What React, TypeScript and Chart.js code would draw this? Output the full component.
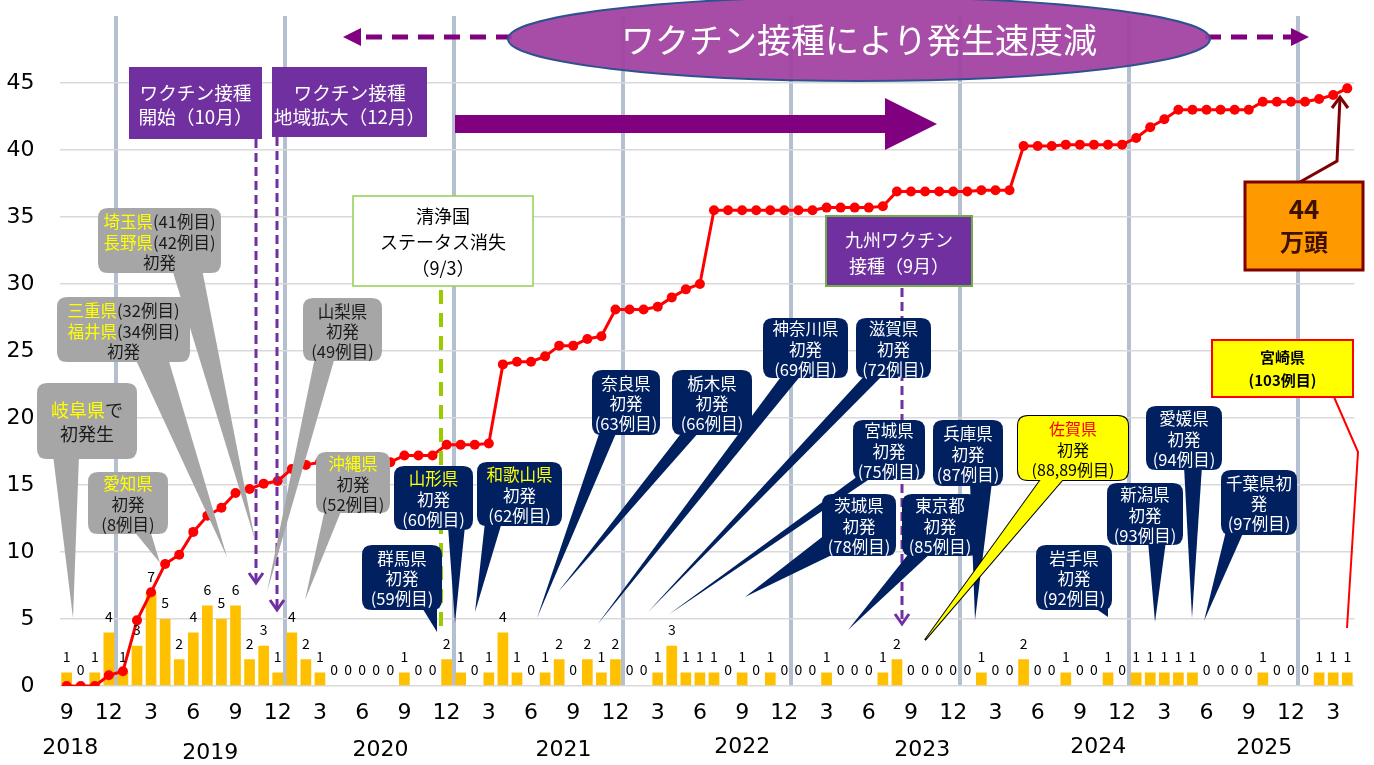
import React, { useEffect, useRef } from 'react';
import { Chart, registerables } from 'chart.js';
Chart.register(...registerables);

const months: string[] = [
  '2018-09','2018-10','2018-11','2018-12',
  '2019-01','2019-02','2019-03','2019-04','2019-05','2019-06','2019-07','2019-08','2019-09','2019-10','2019-11','2019-12',
  '2020-01','2020-02','2020-03','2020-04','2020-05','2020-06','2020-07','2020-08','2020-09','2020-10','2020-11','2020-12',
  '2021-01','2021-02','2021-03','2021-04','2021-05','2021-06','2021-07','2021-08','2021-09','2021-10','2021-11','2021-12',
  '2022-01','2022-02','2022-03','2022-04','2022-05','2022-06','2022-07','2022-08','2022-09','2022-10','2022-11','2022-12',
  '2023-01','2023-02','2023-03','2023-04','2023-05','2023-06','2023-07','2023-08','2023-09','2023-10','2023-11','2023-12',
  '2024-01','2024-02','2024-03','2024-04','2024-05','2024-06','2024-07','2024-08','2024-09','2024-10','2024-11','2024-12',
  '2025-01','2025-02','2025-03','2025-04','2025-05','2025-06','2025-07','2025-08','2025-09','2025-10','2025-11','2025-12',
  '2026-01','2026-02','2026-03','2026-04',
];

// monthly outbreak cases (bars)
const cases: number[] = [
  1,0,1,4,
  1,3,7,5,2,4,6,5,6,2,3,1,
  4,2,1,0,0,0,0,0,1,0,0,2,
  1,0,1,4,1,0,1,2,0,2,1,2,
  0,0,1,3,1,1,1,0,1,0,1,0,
  0,0,1,0,0,0,1,2,0,0,0,0,
  0,1,0,0,2,0,0,1,0,0,1,0,
  1,1,1,1,1,0,0,0,0,1,0,0,
  0,1,1,1,
];

// cumulative culled pigs (万頭, line)
const culled: number[] = [
  0,0,0,0.8,
  1.1,4.9,7.0,9.1,9.8,11.5,12.7,13.3,14.4,14.7,15.1,15.3,
  16.2,16.5,16.7,16.7,16.7,16.7,16.7,16.7,17.2,17.2,17.2,18.0,
  18.0,18.0,18.1,24.0,24.2,24.2,24.6,25.4,25.4,25.9,26.1,28.1,
  28.1,28.1,28.3,29.0,29.6,30.0,35.5,35.5,35.5,35.5,35.5,35.5,
  35.5,35.5,35.7,35.7,35.7,35.7,35.8,36.9,36.9,36.9,36.9,36.9,
  36.9,37.0,37.0,37.0,40.3,40.3,40.3,40.4,40.4,40.4,40.4,40.4,
  40.9,41.7,42.3,43.0,43.0,43.0,43.0,43.0,43.0,43.6,43.6,43.6,
  43.6,43.8,44.1,44.6,
];

const yTicks: number[] = [0, 5, 10, 15, 20, 25, 30, 35, 40, 45];
const yearLabels: string[] = ['2018', '2019', '2020', '2021', '2022', '2023', '2024', '2025'];
// where each year label sits, in category-index units, and its vertical offset below the axis
const yearAt: number[] = [0.25, 10.2, 22.3, 35.3, 48.0, 60.8, 73.3, 85.1];
const yearDy: number[] = [62, 67, 64, 64, 61, 64, 61, 62];

const F = '"Noto Sans CJK JP", "Noto Sans", sans-serif';
const NUM = '"DejaVu Sans", sans-serif';
const Y = '#FFFF00';
const W = '#FFFFFF';
const D = '#1A1A1A';
const GREY = '#A6A6A6';
const NAVY = '#002060';
const PURPLE = '#7030A0';
const MAG = '#800080';

type Seg = [string, string];

function rr(ctx: CanvasRenderingContext2D, x: number, y: number, w: number, h: number, r: number) {
  ctx.beginPath();
  ctx.moveTo(x + r, y);
  ctx.lineTo(x + w - r, y);
  ctx.quadraticCurveTo(x + w, y, x + w, y + r);
  ctx.lineTo(x + w, y + h - r);
  ctx.quadraticCurveTo(x + w, y + h, x + w - r, y + h);
  ctx.lineTo(x + r, y + h);
  ctx.quadraticCurveTo(x, y + h, x, y + h - r);
  ctx.lineTo(x, y + r);
  ctx.quadraticCurveTo(x, y, x + r, y);
  ctx.closePath();
}

function lines(ctx: CanvasRenderingContext2D, cx: number, ys: number[], ls: Seg[][], font: string) {
  ctx.font = font;
  ctx.textBaseline = 'middle';
  ctx.textAlign = 'left';
  ls.forEach((segs, i) => {
    let total = 0;
    segs.forEach(([t]) => (total += ctx.measureText(t).width));
    let x = cx - total / 2;
    segs.forEach(([t, c]) => {
      ctx.fillStyle = c;
      ctx.fillText(t, x, ys[i]);
      x += ctx.measureText(t).width;
    });
  });
}

interface CO {
  x: number; y: number; w: number; h: number; r?: number;
  fill: string; stroke?: string;
  wedge?: number[]; // bx1,by1,bx2,by2,tx,ty
  ls: Seg[][]; ys: number[]; font?: string;
}

function callout(ctx: CanvasRenderingContext2D, o: CO) {
  const r = o.r ?? 10;
  const wedgePath = () => {
    if (!o.wedge) return;
    const [a, b, c, d, e, f] = o.wedge;
    ctx.beginPath();
    ctx.moveTo(a, b);
    ctx.lineTo(e, f);
    ctx.lineTo(c, d);
    ctx.closePath();
  };
  if (o.stroke) {
    ctx.strokeStyle = o.stroke;
    ctx.lineWidth = 2;
    ctx.lineJoin = 'miter';
    if (o.wedge) { wedgePath(); ctx.stroke(); }
    rr(ctx, o.x, o.y, o.w, o.h, r); ctx.stroke();
  }
  ctx.fillStyle = o.fill;
  if (o.wedge) { wedgePath(); ctx.fill(); }
  ctx.fillStyle = o.fill;
  rr(ctx, o.x, o.y, o.w, o.h, r); ctx.fill();
  lines(ctx, o.x + o.w / 2, o.ys, o.ls, o.font ?? `16px ${F}`);
}

function rectBox(ctx: CanvasRenderingContext2D, x: number, y: number, w: number, h: number, fill: string, stroke?: string, lw = 2) {
  ctx.fillStyle = fill;
  ctx.fillRect(x, y, w, h);
  if (stroke) {
    ctx.strokeStyle = stroke;
    ctx.lineWidth = lw;
    ctx.strokeRect(x, y, w, h);
  }
}

function vArrowDashed(ctx: CanvasRenderingContext2D, x: number, y1: number, y2: number, color: string, dash: number[], lw: number) {
  ctx.save();
  ctx.strokeStyle = color;
  ctx.lineWidth = lw;
  ctx.setLineDash(dash);
  ctx.beginPath();
  ctx.moveTo(x, y1);
  ctx.lineTo(x, y2);
  ctx.stroke();
  ctx.setLineDash([]);
  ctx.beginPath();
  ctx.moveTo(x - 7, y2 - 10);
  ctx.lineTo(x, y2);
  ctx.lineTo(x + 7, y2 - 10);
  ctx.stroke();
  ctx.restore();
}

const annotations = {
  id: 'annotations',
  afterDatasetsDraw(chart: any) {
    const ctx: CanvasRenderingContext2D = chart.ctx;
    const xs = chart.scales.x;
    const ys = chart.scales.y;
    ctx.save();
    // value labels above bars
    const meta = chart.getDatasetMeta(1);
    ctx.font = `14px ${F}`;
    ctx.fillStyle = '#000';
    ctx.textAlign = 'center';
    ctx.textBaseline = 'middle';
    meta.data.forEach((bar: any, i: number) => {
      ctx.fillText(String(cases[i]), bar.x, bar.y - 16);
    });
    // year labels
    ctx.font = `22px ${NUM}`;
    yearLabels.forEach((t, i) => {
      ctx.fillText(t, xs.getPixelForValue(yearAt[i]), ys.bottom + yearDy[i]);
    });
    ctx.restore();
  },
  afterDraw(chart: any) {
    const ctx: CanvasRenderingContext2D = chart.ctx;
    ctx.save();

    // top ellipse + dashed arrows
    ctx.strokeStyle = MAG;
    ctx.lineWidth = 5;
    ctx.setLineDash([16, 10]);
    ctx.beginPath(); ctx.moveTo(512, 37); ctx.lineTo(358, 37); ctx.stroke();
    ctx.beginPath(); ctx.moveTo(1205, 37); ctx.lineTo(1294, 37); ctx.stroke();
    ctx.setLineDash([]);
    ctx.fillStyle = MAG;
    ctx.beginPath(); ctx.moveTo(343, 37); ctx.lineTo(361, 28); ctx.lineTo(361, 46); ctx.closePath(); ctx.fill();
    ctx.beginPath(); ctx.moveTo(1309, 37); ctx.lineTo(1291, 28); ctx.lineTo(1291, 46); ctx.closePath(); ctx.fill();

    ctx.globalAlpha = 0.93;
    ctx.fillStyle = '#A040A0';
    ctx.beginPath(); ctx.ellipse(859, 39, 351, 42, 0, 0, Math.PI * 2); ctx.fill();
    ctx.globalAlpha = 1;
    ctx.strokeStyle = '#2F528F';
    ctx.lineWidth = 2;
    ctx.stroke();
    ctx.font = `34px ${F}`;
    ctx.fillStyle = W;
    ctx.textAlign = 'center';
    ctx.textBaseline = 'middle';
    ctx.fillText('ワクチン接種により発生速度減', 859, 40);

    // big purple arrow
    ctx.fillStyle = MAG;
    ctx.beginPath();
    ctx.moveTo(455, 115); ctx.lineTo(885, 115); ctx.lineTo(885, 98); ctx.lineTo(937, 124);
    ctx.lineTo(885, 150); ctx.lineTo(885, 133); ctx.lineTo(455, 133); ctx.closePath(); ctx.fill();

    // vaccination boxes
    rectBox(ctx, 129, 67, 133, 72, PURPLE);
    lines(ctx, 195.5, [93, 117], [[['ワクチン接種', W]], [['開始（10月）', W]]], `18.7px ${F}`);
    rectBox(ctx, 272, 67, 155, 70, PURPLE);
    lines(ctx, 349.5, [93, 117], [[['ワクチン接種', W]], [['地域拡大（12月）', W]]], `18.7px ${F}`);
    vArrowDashed(ctx, 256, 139, 583, PURPLE, [9, 5], 3);
    vArrowDashed(ctx, 277, 137, 610, PURPLE, [9, 5], 3);

    // clean status lost
    ctx.save();
    ctx.strokeStyle = '#99CC00';
    ctx.lineWidth = 4;
    ctx.setLineDash([14, 9]);
    ctx.beginPath(); ctx.moveTo(441, 290); ctx.lineTo(441, 632); ctx.stroke();
    ctx.restore();
    rectBox(ctx, 353, 196, 180, 90, W, '#92D050', 1.5);
    lines(ctx, 443, [216, 242, 268], [[['清浄国', '#000']], [['ステータス消失', '#000']], [['（9/3）', '#000']]], `18px ${F}`);

    // Kyushu vaccination
    vArrowDashed(ctx, 902, 288, 624, PURPLE, [9, 5], 3);
    rectBox(ctx, 826, 216, 146, 70, PURPLE, '#70AD47', 2);
    lines(ctx, 899, [240, 266], [[['九州ワクチン', W]], [['接種（9月）', W]]], `18px ${F}`);

    // grey callouts
    const fc = `16.5px ${F}`;
    callout(ctx, { x: 37, y: 383, w: 100, h: 76, fill: GREY, wedge: [53, 455, 79, 455, 73, 618],
      ls: [[['岐阜県', Y], ['で', D]], [['初発生', D]]], ys: [410, 434], font: `18px ${F}` });
    callout(ctx, { x: 88, y: 472, w: 80, h: 62, fill: GREY, wedge: [133, 530, 150, 530, 160, 563],
      ls: [[['愛知県', Y]], [['初発', D]], [['(8例目)', D]]], ys: [484, 505, 525], font: fc });
    callout(ctx, { x: 57, y: 297, w: 133, h: 65, fill: GREY, wedge: [135, 358, 168, 358, 227, 557],
      ls: [[['三重県', Y], ['(32例目)', D]], [['福井県', Y], ['(34例目)', D]], [['初発', D]]], ys: [311, 332, 352], font: fc });
    callout(ctx, { x: 98, y: 208, w: 123, h: 65, fill: GREY, wedge: [172, 269, 202, 269, 255, 540],
      ls: [[['埼玉県', Y], ['(41例目)', D]], [['長野県', Y], ['(42例目)', D]], [['初発', D]]], ys: [222, 243, 263], font: fc });
    callout(ctx, { x: 303, y: 298, w: 79, h: 63, fill: GREY, wedge: [315, 357, 335, 357, 267, 592],
      ls: [[['山梨県', D]], [['初発', D]], [['(49例目)', D]]], ys: [312, 332, 352], font: fc });
    callout(ctx, { x: 316, y: 452, w: 74, h: 61, fill: GREY, wedge: [325, 509, 342, 509, 305, 600],
      ls: [[['沖縄県', Y]], [['初発', D]], [['(52例目)', D]]], ys: [464, 485, 505], font: fc });

    // navy callouts
    const nv = (x: number, y: number, w: number, h: number, wedge: number[], l1: Seg[], l2: string, l3: string) => {
      const cy = y + h / 2;
      callout(ctx, { x, y, w, h, fill: NAVY, wedge, ls: [l1, [[l2, W]], [[l3, W]]], ys: [cy - 19, cy + 1.5, cy + 21.5], font: fc });
    };
    nv(362, 545, 80, 65, [421, 606, 437, 606, 437, 632], [['群馬県', W]], '初発', '(59例目)');
    nv(394, 466, 79, 64, [448, 526, 465, 526, 455, 623], [['山形県', Y]], '初発', '(60例目)');
    nv(477, 462, 85, 64, [485, 522, 502, 522, 475, 612], [['和歌山県', Y]], '初発', '(62例目)');
    nv(592, 370, 68, 65, [600, 431, 617, 431, 537, 618], [['奈良県', W]], '初発', '(63例目)');
    nv(672, 370, 80, 65, [683, 431, 700, 431, 558, 592], [['栃木県', W]], '初発', '(66例目)');
    nv(763, 318, 85, 60, [783, 374, 802, 374, 597, 625], [['神奈川県', W]], '初発', '(69例目)');
    nv(856, 318, 75, 60, [866, 374, 884, 374, 648, 612], [['滋賀県', W]], '初発', '(72例目)');
    nv(853, 420, 72, 60, [858, 476, 874, 476, 668, 615], [['宮城県', W]], '初発', '(75例目)');
    nv(933, 420, 70, 66, [970, 482, 992, 482, 975, 620], [['兵庫県', W]], '初発', '(87例目)');
    nv(822, 494, 74, 62, [826, 534, 838, 552, 745, 597], [['茨城県', W]], '初発', '(78例目)');
    nv(902, 494, 76, 62, [910, 552, 932, 552, 848, 630], [['東京都', W]], '初発', '(85例目)');
    nv(1036, 545, 76, 65, [1092, 606, 1108, 606, 1108, 617], [['岩手県', W]], '初発', '(92例目)');
    nv(1107, 483, 76, 62, [1148, 541, 1166, 541, 1155, 622], [['新潟県', W]], '初発', '(93例目)');
    nv(1146, 406, 76, 64, [1184, 466, 1202, 466, 1192, 618], [['愛媛県', W]], '初発', '(94例目)');
    nv(1221, 470, 76, 65, [1226, 531, 1244, 531, 1204, 621], [['千葉県初', W]], '発', '(97例目)');

    // Saga (yellow)
    callout(ctx, { x: 1018, y: 416, w: 110, h: 64, fill: '#FFFF00', stroke: '#000', wedge: [1042, 478, 1064, 478, 925, 640],
      ls: [[['佐賀県', '#FF0000']], [['初発', '#000']], [['(88,89例目)', '#000']]], ys: [429, 450, 470], font: `16px ${F}` });

    // Miyazaki
    ctx.strokeStyle = '#FF0000';
    ctx.lineWidth = 2;
    ctx.beginPath(); ctx.moveTo(1334, 397); ctx.lineTo(1358, 452); ctx.lineTo(1347, 628); ctx.stroke();
    rectBox(ctx, 1212, 340, 141, 57, '#FFFF00', '#FF0000', 2);
    lines(ctx, 1282.5, [357, 380], [[['宮崎県', '#000']], [['(103例目)', '#000']]], `bold 15px ${F}`);

    // 44万頭 box + arrow
    ctx.strokeStyle = '#7F0000';
    ctx.lineWidth = 3;
    ctx.beginPath(); ctx.moveTo(1300, 182); ctx.lineTo(1337, 161); ctx.lineTo(1340, 98); ctx.stroke();
    ctx.beginPath(); ctx.moveTo(1332, 108); ctx.lineTo(1340, 97); ctx.lineTo(1348, 108); ctx.stroke();
    rectBox(ctx, 1245, 182, 118, 88, '#FF9900', '#7F0000', 3);
    lines(ctx, 1304, [209], [[['44', '#3F0F00']]], `bold 26px ${F}`);
    lines(ctx, 1304, [242], [[['万頭', '#3F0F00']]], `bold 24px ${F}`);

    ctx.restore();
  },
};

export default function App() {
  const ref = useRef<HTMLCanvasElement | null>(null);
  useEffect(() => {
    document.body.style.margin = '0';
    const canvas = ref.current!;
    const chart = new Chart(canvas, {
      type: 'bar',
      data: {
        labels: months,
        datasets: [
          {
            type: 'line',
            label: '殺処分頭数(万頭)',
            data: culled,
            borderColor: '#FF0000',
            backgroundColor: '#FF0000',
            borderWidth: 3,
            pointRadius: 5,
            pointBorderWidth: 0,
            pointBackgroundColor: '#FF0000',
            tension: 0,
            order: 0,
          } as any,
          {
            type: 'bar',
            label: '発生件数',
            data: cases,
            backgroundColor: '#FFC000',
            barPercentage: 0.76,
            categoryPercentage: 1,
            order: 1,
          },
        ],
      },
      options: {
        responsive: false,
        devicePixelRatio: 1,
        animation: false,
        layout: { padding: { left: 0, top: 16, right: 19.7, bottom: 0 } },
        plugins: { legend: { display: false }, tooltip: { enabled: false } },
        scales: {
          x: {
            offset: true,
            border: { display: false },
            grid: {
              offset: true,
              drawTicks: false,
              lineWidth: 4,
              color: (c: any) => {
                const m = months[c.index];
                return m && m.endsWith('-01') ? '#B4BFCF' : 'rgba(0,0,0,0)';
              },
            },
            ticks: {
              autoSkip: false,
              maxRotation: 0,
              minRotation: 0,
              padding: 14,
              color: '#000',
              font: { family: NUM, size: 22 },
              callback: (_v: any, i: number) => {
                const m = parseInt(months[i].slice(5), 10);
                return m % 3 === 0 ? String(m) : '';
              },
            },
            afterFit: (s: any) => { s.height = 79; },
          },
          y: {
            min: 0,
            max: 50,
            border: { display: false },
            grid: {
              drawTicks: true,
              tickLength: 25,
              tickColor: 'rgba(0,0,0,0)',
              lineWidth: 1.5,
              color: (c: any) => (c.tick && yTicks.includes(c.tick.value) ? '#D9D9D9' : 'rgba(0,0,0,0)'),
            },
            ticks: {
              stepSize: 5,
              padding: 0,
              color: '#000',
              font: { family: NUM, size: 22 },
              callback: (v: any) => (yTicks.includes(v) ? String(v) : ''),
            },
            afterFit: (s: any) => { s.width = 59.6; },
          },
        },
      },
      plugins: [annotations],
    });
    return () => chart.destroy();
  }, []);
  return (
    <div style={{ position: 'fixed', left: 0, top: 0, width: 1374, height: 765, background: '#fff' }}>
      <canvas ref={ref} width={1374} height={765} style={{ width: 1374, height: 765 }} />
    </div>
  );
}
